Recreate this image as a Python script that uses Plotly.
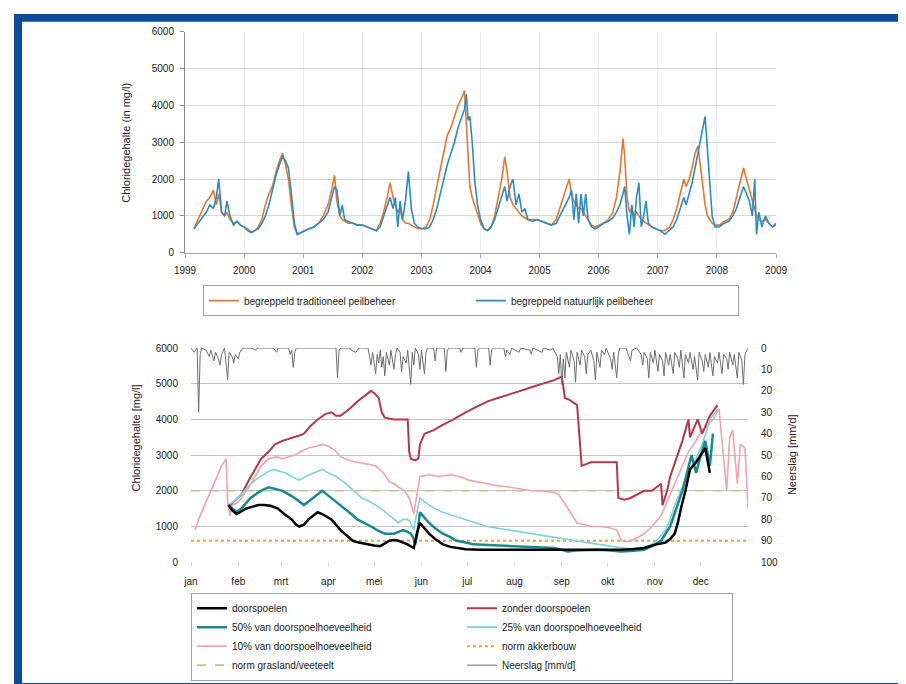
import plotly.graph_objects as go

# ---------------- DATA: top chart (1999-2009) ----------------
years = [1999.15, 1999.22, 1999.30, 1999.36, 1999.42, 1999.48, 1999.53, 1999.57, 1999.62, 1999.67,
         1999.71, 1999.76, 1999.82, 1999.88, 1999.94, 2000.00, 2000.06, 2000.12, 2000.18, 2000.24,
         2000.30, 2000.36, 2000.42, 2000.48, 2000.54, 2000.60, 2000.65, 2000.70, 2000.75, 2000.80,
         2000.85, 2000.90, 2000.96, 2001.02, 2001.10, 2001.18, 2001.26, 2001.34, 2001.42, 2001.48,
         2001.53, 2001.57, 2001.62, 2001.66, 2001.70, 2001.76, 2001.84, 2001.92, 2002.00, 2002.08,
         2002.16, 2002.24, 2002.30, 2002.36, 2002.42, 2002.47, 2002.52, 2002.56, 2002.60, 2002.64,
         2002.68, 2002.73, 2002.78, 2002.83, 2002.88, 2002.94, 2003.00, 2003.08, 2003.14, 2003.20,
         2003.26, 2003.32, 2003.38, 2003.44, 2003.50, 2003.56, 2003.62, 2003.68, 2003.73, 2003.76,
         2003.79, 2003.82, 2003.86, 2003.90, 2003.95, 2004.00, 2004.06, 2004.12, 2004.18, 2004.24,
         2004.30, 2004.36, 2004.41, 2004.45, 2004.50, 2004.55, 2004.60, 2004.65, 2004.70, 2004.75,
         2004.80, 2004.88, 2004.96, 2005.04, 2005.12, 2005.20, 2005.28, 2005.34, 2005.40, 2005.46,
         2005.50, 2005.54, 2005.58, 2005.62, 2005.66, 2005.70, 2005.74, 2005.78, 2005.82, 2005.88,
         2005.94, 2006.00, 2006.08, 2006.16, 2006.24, 2006.30, 2006.36, 2006.41, 2006.44, 2006.48,
         2006.52, 2006.56, 2006.60, 2006.64, 2006.68, 2006.72, 2006.76, 2006.80, 2006.84, 2006.90,
         2006.96, 2007.04, 2007.12, 2007.20, 2007.26, 2007.32, 2007.38, 2007.44, 2007.48, 2007.53,
         2007.58, 2007.63, 2007.68, 2007.72, 2007.76, 2007.80, 2007.84, 2007.88, 2007.92, 2007.97,
         2008.04, 2008.12, 2008.20, 2008.27, 2008.33, 2008.39, 2008.45, 2008.50, 2008.55, 2008.60,
         2008.64, 2008.67, 2008.71, 2008.76, 2008.82, 2008.88, 2008.94, 2009.00]

traditioneel = [650, 900, 1200, 1400, 1500, 1700, 1300, 1600, 1100, 1000,
                1100, 900, 800, 850, 750, 700, 650, 550, 600, 700,
                900, 1300, 1600, 1800, 2200, 2500, 2700, 2400, 2000, 1300,
                700, 500, 550, 600, 650, 700, 800, 1000, 1300, 1700,
                2100, 1400, 1000, 900, 850, 800, 800, 750, 750, 700,
                650, 600, 800, 1100, 1500, 1900, 1500, 1300, 1100, 1200,
                900, 800, 800, 750, 700, 650, 650, 700, 900, 1300,
                1800, 2300, 2800, 3200, 3400, 3700, 4000, 4200, 4400, 3500,
                2500, 1800, 1500, 1300, 1000, 800, 650, 600, 700, 1000,
                1500, 2000, 2600, 2200, 1500, 1300, 1200, 1100, 1000, 950,
                900, 900, 900, 850, 800, 750, 900, 1200, 1500, 1800,
                2000, 1600, 1400, 1300, 1200, 1200, 1100, 1000, 900, 750,
                700, 750, 800, 900, 1100, 1500, 2200, 3100, 2600, 1500,
                1100, 1200, 1000, 1100, 1000, 900, 850, 800, 750, 700,
                650, 600, 600, 700, 900, 1200, 1600, 2000, 1800, 2000,
                2300, 2700, 2900, 2400, 1800, 1300, 1000, 900, 800, 750,
                750, 850, 900, 1100, 1500, 1900, 2300, 2000, 1700, 1400,
                1200, 1000, 900, 850, 900, 800, 700, 750]

natuurlijk = [650, 800, 1000, 1100, 1300, 1200, 1500, 2000, 1100, 1000,
              1400, 1000, 750, 850, 750, 700, 600, 550, 600, 650,
              800, 1000, 1300, 1700, 2100, 2400, 2600, 2500, 2300, 1600,
              800, 500, 550, 600, 650, 700, 800, 900, 1100, 1500,
              1800, 1700, 1000, 1300, 900, 850, 800, 750, 750, 700,
              650, 600, 700, 1000, 1300, 1500, 1200, 1500, 700, 1400,
              900, 1400, 2200, 1200, 800, 700, 650, 650, 700, 900,
              1200, 1600, 2000, 2400, 2700, 3000, 3400, 3700, 3900, 4300,
              3600, 3700, 3000, 2000, 1300, 900, 650, 600, 700, 900,
              1200, 1500, 1800, 1400, 1800, 2000, 1300, 1600, 1100, 1200,
              900, 850, 900, 850, 800, 750, 800, 1000, 1200, 1400,
              1500, 1700, 900, 1600, 800, 1600, 1000, 1600, 900, 700,
              650, 700, 800, 850, 950, 1100, 1300, 1600, 1800, 1000,
              500, 1300, 700, 1500, 1900, 700, 1000, 1400, 800, 700,
              650, 600, 500, 600, 700, 900, 1200, 1500, 1300, 1600,
              1900, 2300, 2700, 3000, 3300, 3700, 2800, 1800, 1000, 700,
              700, 800, 850, 1000, 1200, 1500, 1800, 1600, 1400, 1000,
              2000, 500, 1100, 700, 1000, 800, 700, 800]

year_ticks = [1999, 2000, 2001, 2002, 2003, 2004, 2005, 2006, 2007, 2008, 2009]

# ---------------- DATA: bottom chart (one year, day of year) ----------------
month_days = [0, 31, 59, 90, 120, 151, 181, 212, 243, 273, 304, 334]
month_labels = ["jan", "feb", "mrt", "apr", "mei", "jun", "jul", "aug", "sep", "okt", "nov", "dec"]

d_door = [24.5, 27, 30, 33, 36, 40, 44, 48, 52, 57, 61, 66, 69, 71, 74, 77, 80, 83, 86, 89,
          92, 95, 98, 102, 106, 110, 115, 120, 124, 127, 130, 133, 136, 139, 142, 145, 146, 148, 150, 153,
          156, 160, 165, 170, 174, 180, 190, 210, 238, 250, 265, 282, 290, 297, 301, 305, 311, 314, 317, 319,
          321, 324, 327, 331, 334, 337, 340]
v_door = [1600, 1450, 1350, 1420, 1500, 1550, 1600, 1600, 1580, 1500, 1350, 1200, 1050, 1000, 1050, 1200, 1300, 1400, 1350, 1280,
          1200, 1050, 900, 750, 600, 550, 500, 470, 450, 520, 600, 620, 600, 550, 500, 420, 400, 800, 1100, 950,
          800, 650, 500, 430, 400, 360, 350, 350, 350, 340, 350, 350, 370, 400, 450, 500, 550, 650, 800, 1100,
          1500, 2000, 2600, 2800, 3000, 3200, 2500]

d_zonder = [24.5, 28, 33, 38, 42, 46, 51, 55, 60, 64, 68, 71, 74, 78, 83, 88, 92, 95, 98, 101,
            104, 109, 115, 118, 121, 123, 125, 127, 133, 138, 142, 143, 144, 147, 149, 150, 153, 159, 165, 172,
            180, 187, 194, 201, 209, 216, 223, 230, 238, 243, 245, 248, 253, 256, 262, 270, 276, 279, 280, 284,
            288, 293, 297, 302, 305, 308, 309, 312, 314, 318, 322, 326, 327, 332, 335, 340, 345]
v_zonder = [1550, 1700, 1900, 2300, 2600, 2900, 3100, 3300, 3400, 3450, 3500, 3550, 3600, 3800, 4000, 4150, 4200, 4100, 4100, 4200,
            4300, 4500, 4700, 4800, 4700, 4600, 4200, 4050, 4000, 4000, 4000, 3100, 2900, 2850, 2900, 3300, 3600, 3700, 3850, 4000,
            4200, 4350, 4500, 4600, 4700, 4800, 4900, 5000, 5100, 5200, 4600, 4550, 4400, 2700, 2800, 2800, 2800, 2800, 1800, 1750,
            1800, 1900, 2000, 2000, 2100, 2200, 1600, 2000, 2400, 2900, 3400, 4000, 3500, 4000, 3600, 4100, 4400]

d_50 = [24.5, 27, 30, 34, 39, 44, 48, 51, 55, 60, 64, 68, 71, 74, 77, 80, 83, 86, 89, 92,
        96, 101, 105, 109, 114, 118, 122, 127, 130, 133, 136, 139, 142, 144, 146, 147, 149, 150, 153, 156,
        160, 165, 170, 174, 180, 185, 195, 209, 220, 230, 238, 243, 247, 252, 260, 267, 275, 282, 290, 297,
        302, 308, 311, 314, 318, 322, 325, 328, 331, 334, 337, 340, 342]
v_50 = [1600, 1500, 1400, 1550, 1800, 1950, 2050, 2100, 2050, 2000, 1900, 1800, 1700, 1600, 1700, 1800, 1900, 2000, 1900, 1800,
        1650, 1500, 1350, 1200, 1100, 1000, 900, 800, 800, 800, 850, 900, 850, 800, 650, 500, 1000, 1400, 1250, 1100,
        950, 800, 700, 600, 550, 500, 480, 450, 430, 420, 400, 350, 300, 330, 340, 350, 330, 300, 320, 350,
        450, 600, 800, 1000, 1500, 2000, 2500, 3000, 2500, 3000, 3400, 2700, 3600]

d_25 = [24.5, 28, 33, 38, 42, 47, 51, 54, 58, 62, 66, 71, 75, 80, 86, 90, 95, 100, 104, 108,
        112, 117, 121, 126, 130, 134, 136, 139, 142, 144, 146, 148, 150, 153, 156, 160, 165, 172, 180, 187,
        194, 201, 209, 216, 223, 230, 238, 245, 253, 260, 267, 275, 282, 287, 291, 296, 302, 306, 311, 314,
        317, 322, 326, 331, 335, 338, 340, 345]
v_25 = [1600, 1700, 1900, 2150, 2300, 2450, 2550, 2600, 2550, 2500, 2400, 2300, 2400, 2500, 2600, 2500, 2400, 2250, 2100, 1950,
        1800, 1700, 1600, 1450, 1300, 1150, 1100, 1200, 1200, 1100, 900, 1400, 1800, 1700, 1600, 1500, 1400, 1300, 1200, 1100,
        1000, 950, 900, 850, 800, 750, 700, 650, 600, 550, 500, 450, 400, 370, 350, 400, 500, 650, 900, 1200,
        1600, 2100, 2500, 2900, 3300, 3700, 4000, 4300]

d_10 = [2.6, 5, 10, 15, 20, 23, 24, 25.5, 27, 30, 33, 38, 42, 46, 51, 56, 60, 64, 68, 72,
        77, 82, 86, 90, 94, 98, 104, 109, 115, 121, 126, 130, 133, 136, 140, 143, 146, 148, 150, 156,
        162, 170, 176, 182, 188, 194, 200, 209, 216, 223, 230, 238, 241, 244, 247, 250, 253, 258, 262, 268,
        273, 279, 282, 285, 288, 293, 297, 302, 308, 312, 317, 322, 326, 331, 335, 338, 342, 346, 349, 351,
        353, 355, 358, 360, 363, 365]
v_10 = [900, 1200, 1700, 2200, 2700, 2900, 1700, 1300, 1600, 1650, 1800, 2100, 2400, 2700, 2900, 2950, 2900, 2950, 3000, 3100,
        3200, 3250, 3300, 3250, 3150, 2950, 2850, 2800, 2750, 2700, 2500, 2250, 2200, 2100, 2000, 1800, 1350, 1900, 2400, 2450,
        2400, 2450, 2400, 2300, 2250, 2200, 2150, 2100, 2050, 2000, 2000, 1950, 1900, 1700, 1500, 1300, 1100, 1050, 1000, 1000,
        980, 900, 600, 580, 600, 700, 800, 1000, 1300, 1700, 2200, 2700, 3100, 3400, 3700, 3800, 4000, 4300, 2900, 2000,
        3500, 3700, 2200, 3300, 3200, 1500]

norm_days = [0, 365]
norm_akkerbouw = [600, 600]
norm_grasland = [2000, 2000]

d_rain = [0, 2, 4, 5, 6, 7, 10, 12, 13, 15, 16, 18, 19, 20, 22, 24, 25, 27, 28, 29,
          31, 32, 34, 40, 42, 44, 54, 56, 57, 64, 65, 66, 67, 68, 69, 80, 95, 96, 97, 98,
          104, 105, 108, 110, 116, 117, 118, 119, 120, 121, 122, 123, 124, 125, 126, 127, 128, 130, 131, 133,
          134, 135, 137, 138, 139, 141, 142, 144, 145, 146, 147, 149, 150, 151, 153, 154, 155, 159, 160, 161,
          166, 167, 168, 169, 176, 177, 178, 186, 187, 188, 189, 195, 196, 197, 198, 205, 206, 207, 209, 210,
          215, 216, 222, 223, 224, 230, 231, 236, 237, 240, 241, 242, 243, 244, 245, 246, 248, 249, 251, 252,
          253, 255, 256, 258, 259, 260, 262, 264, 265, 266, 268, 269, 271, 272, 275, 276, 277, 279, 280, 281,
          285, 286, 288, 289, 292, 295, 296, 297, 299, 300, 301, 303, 304, 306, 307, 309, 310, 311, 313, 314,
          316, 317, 319, 320, 321, 323, 324, 326, 327, 329, 330, 332, 333, 335, 336, 337, 339, 340, 342, 343,
          345, 346, 348, 349, 351, 352, 353, 355, 356, 358, 359, 361, 362, 363, 365]
v_rain = [0, 2, 0, 30, 3, 0, 1, 4, 1, 6, 2, 5, 8, 3, 0, 15, 2, 4, 7, 3,
          5, 2, 0, 0, 1, 0, 0, 2, 0, 0, 3, 1, 9, 2, 0, 0, 0, 14, 1, 0,
          0, 1, 2, 0, 0, 4, 8, 2, 6, 12, 3, 7, 1, 9, 4, 13, 2, 8, 1, 10,
          3, 0, 2, 11, 4, 7, 1, 17, 2, 8, 0, 3, 10, 1, 12, 2, 0, 0, 6, 0,
          0, 11, 1, 0, 0, 2, 0, 0, 9, 1, 0, 0, 8, 1, 0, 0, 4, 1, 3, 0,
          2, 0, 1, 3, 0, 2, 0, 1, 0, 4, 12, 3, 17, 5, 14, 2, 9, 1, 6, 16,
          2, 8, 1, 4, 12, 3, 1, 6, 15, 2, 9, 1, 3, 0, 5, 10, 2, 14, 3, 0,
          0, 2, 6, 1, 0, 3, 8, 2, 5, 14, 2, 7, 1, 11, 3, 6, 13, 2, 8, 3,
          12, 2, 5, 9, 1, 14, 3, 7, 2, 10, 4, 15, 2, 6, 11, 3, 9, 2, 13, 4,
          7, 2, 12, 3, 5, 10, 2, 8, 3, 14, 2, 6, 17, 3, 0]

# ---------------- LAYOUT HELPERS (pixel -> paper) ----------------
W, H = 906, 684
ML, MR = 177, 138
PW = W - ML - MR


def px(xp):
    return (xp - ML) / PW


def py(yp):
    return (H - yp) / H


FONT = "Liberation Sans Narrow, Liberation Sans, Arial, sans-serif"
BLUE_FRAME = "#0b4b98"

fig = go.Figure()

# ---- top chart traces ----
fig.add_trace(go.Scatter(x=years, y=traditioneel, mode="lines", name="begreppeld traditioneel peilbeheer",
                         line=dict(color="#E8772E", width=1.6), xaxis="x", yaxis="y", legend="legend"))
fig.add_trace(go.Scatter(x=years, y=natuurlijk, mode="lines", name="begreppeld natuurlijk peilbeheer",
                         line=dict(color="#2B8BC6", width=1.6), xaxis="x", yaxis="y", legend="legend"))

# ---- bottom chart traces ----
fig.add_trace(go.Scatter(x=d_rain, y=v_rain, mode="lines", name="Neerslag [mm/d]",
                         line=dict(color="#6e6e6e", width=1), xaxis="x2", yaxis="y3",
                         legend="legend2", legendrank=8))
fig.add_trace(go.Scatter(x=norm_days, y=norm_grasland, mode="lines", name="norm grasland/veeteelt",
                         line=dict(color="#B9C98A", width=1.6, dash="dash"), xaxis="x2", yaxis="y2",
                         legend="legend2", legendrank=7))
fig.add_trace(go.Scatter(x=norm_days, y=norm_akkerbouw, mode="lines", name="norm akkerbouw",
                         line=dict(color="#F5A031", width=2, dash="dot"), xaxis="x2", yaxis="y2",
                         legend="legend2", legendrank=6))
fig.add_trace(go.Scatter(x=d_10, y=v_10, mode="lines", name="10% van doorspoelhoeveelheid",
                         line=dict(color="#F0A3AA", width=1.6), xaxis="x2", yaxis="y2",
                         legend="legend2", legendrank=5))
fig.add_trace(go.Scatter(x=d_zonder, y=v_zonder, mode="lines", name="zonder doorspoelen",
                         line=dict(color="#B5374A", width=2), xaxis="x2", yaxis="y2",
                         legend="legend2", legendrank=2))
fig.add_trace(go.Scatter(x=d_25, y=v_25, mode="lines", name="25% van doorspoelhoeveelheid",
                         line=dict(color="#7ED3DA", width=1.6), xaxis="x2", yaxis="y2",
                         legend="legend2", legendrank=4))
fig.add_trace(go.Scatter(x=d_50, y=v_50, mode="lines", name="50% van doorspoelhoeveelheid",
                         line=dict(color="#178A8E", width=2.5), xaxis="x2", yaxis="y2",
                         legend="legend2", legendrank=3))
fig.add_trace(go.Scatter(x=d_door, y=v_door, mode="lines", name="doorspoelen",
                         line=dict(color="#000000", width=2.5), xaxis="x2", yaxis="y2",
                         legend="legend2", legendrank=1))

tickfont = dict(family=FONT, size=10, color="#222222")
titlefont = dict(family=FONT, size=11, color="#222222")

shapes = [
    dict(type="rect", xref="paper", yref="paper", x0=px(6), x1=px(14), y0=py(684), y1=py(0),
         fillcolor=BLUE_FRAME, line=dict(width=0)),
    dict(type="rect", xref="paper", yref="paper", x0=px(895), x1=px(903), y0=py(684), y1=py(0),
         fillcolor=BLUE_FRAME, line=dict(width=0)),
    dict(type="rect", xref="paper", yref="paper", x0=px(6), x1=px(903), y0=py(8), y1=py(0),
         fillcolor=BLUE_FRAME, line=dict(width=0)),
    dict(type="rect", xref="paper", yref="paper", x0=px(6), x1=px(903), y0=py(684), y1=py(681),
         fillcolor=BLUE_FRAME, line=dict(width=0)),
]

annotations = [
    dict(text="Chloridegehalte (in mg/l)", xref="paper", yref="paper", x=px(118), y=py(131),
         showarrow=False, textangle=-90, font=titlefont, xanchor="center", yanchor="middle"),
    dict(text="Chloridegehalte [mg/l]", xref="paper", yref="paper", x=px(128), y=py(432),
         showarrow=False, textangle=-90, font=titlefont, xanchor="center", yanchor="middle"),
    dict(text="Neerslag [mm/d]", xref="paper", yref="paper", x=px(784), y=py(449),
         showarrow=False, textangle=-90, font=titlefont, xanchor="center", yanchor="middle"),
]

fig.update_layout(
    width=W, height=H,
    margin=dict(l=ML, r=MR, t=0, b=0, pad=0),
    paper_bgcolor="white", plot_bgcolor="white",
    font=dict(family=FONT, size=10, color="#222222"),
    showlegend=True,
    xaxis=dict(domain=[px(177), px(768)], range=[1999, 2009], anchor="y",
               tickvals=year_ticks, ticktext=[str(y) for y in year_ticks],
               showgrid=True, gridcolor="#ececec", gridwidth=1,
               showline=True, linecolor="#a6a6a6", zeroline=False,
               ticks="outside", ticklen=4, tickcolor="#a6a6a6",
               ticklabelstandoff=4, tickfont=tickfont),
    yaxis=dict(domain=[py(243), py(18)], range=[0, 6000], dtick=1000, anchor="x",
               showgrid=True, gridcolor="#d9d9d9", gridwidth=1,
               showline=True, linecolor="#8c8c8c", zeroline=False,
               ticks="outside", ticklen=4, tickcolor="#8c8c8c",
               ticklabelstandoff=4, tickfont=tickfont),
    xaxis2=dict(domain=[px(183), px(740)], range=[0, 365], anchor="y2",
                tickvals=month_days, ticktext=month_labels,
                showgrid=False, showline=False, zeroline=False,
                ticks="outside", ticklen=3, tickcolor="#cfcfcf",
                ticklabelstandoff=7, tickfont=tickfont),
    yaxis2=dict(domain=[py(558), py(340)], range=[0, 6000], dtick=1000, anchor="x2",
                showgrid=True, gridcolor="#c4c4c4", gridwidth=1,
                showline=False, zeroline=False,
                ticks="", ticklabelstandoff=12, tickfont=tickfont),
    yaxis3=dict(overlaying="y2", side="right", anchor="x2", range=[100, 0], dtick=10,
                showgrid=False, showline=False, zeroline=False,
                ticks="", ticklabelstandoff=12, tickfont=tickfont),
    legend=dict(orientation="h", x=px(195), y=py(276), xanchor="left", yanchor="top",
                bordercolor="#a0a0a0", borderwidth=1, bgcolor="white",
                entrywidth=222, entrywidthmode="pixels",
                font=dict(family=FONT, size=10, color="#222222")),
    legend2=dict(orientation="h", x=px(183), y=py(589), xanchor="left", yanchor="top",
                 bordercolor="#a0a0a0", borderwidth=1, bgcolor="white",
                 entrywidth=225, entrywidthmode="pixels", traceorder="normal",
                 font=dict(family=FONT, size=10, color="#222222"),
                 tracegroupgap=0),
    shapes=shapes,
    annotations=annotations,
)

fig.write_html("out.html")
